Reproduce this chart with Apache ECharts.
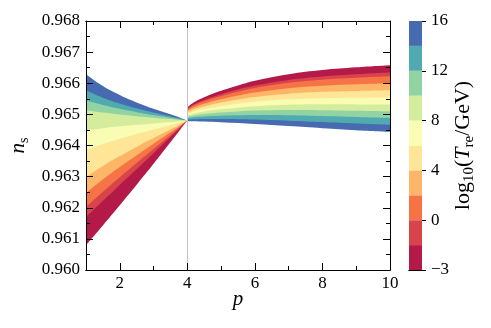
<!DOCTYPE html>
<html>
<head>
<meta charset="utf-8">
<script src="https://cdn.jsdelivr.net/npm/echarts@6/dist/echarts.min.js"></script>
<style>
  html, body { margin: 0; padding: 0; background: #fff; }
  #chart { width: 491px; height: 328px; }
</style>
</head>
<body>
<div id="chart"></div>
<script>
// log10(T_re/GeV) levels bounding the coloured bands
const levels = [-3, -1, 0, 2, 4, 6, 8, 10, 12, 14, 16]
const bandColors = ['#b41a48', '#d9444c', '#f57345', '#fdb668', '#fee696',
  '#f9fcb3', '#d3ed9c', '#92d3a4', '#50aaaf', '#476ab0']

// p < 4 branch, one row per level (same order as levels)
const pLeft = [1, 1.5, 2, 2.5, 3, 3.5, 3.8, 4]
const nsLeft = [
  [0.960801, 0.961433, 0.962081, 0.962741, 0.963412, 0.964104, 0.964524, 0.964800],
  [0.961700, 0.962221, 0.962732, 0.963241, 0.963752, 0.964273, 0.964589, 0.964800],
  [0.962021, 0.962513, 0.962982, 0.963438, 0.963886, 0.964339, 0.964614, 0.964800],
  [0.962470, 0.962906, 0.963307, 0.963686, 0.964057, 0.964423, 0.964646, 0.964800],
  [0.962984, 0.963341, 0.963659, 0.963955, 0.964237, 0.964513, 0.964682, 0.964800],
  [0.963850, 0.964046, 0.964216, 0.964370, 0.964514, 0.964653, 0.964739, 0.964800],
  [0.964492, 0.964558, 0.964615, 0.964664, 0.964710, 0.964753, 0.964781, 0.964800],
  [0.965134, 0.965058, 0.964997, 0.964943, 0.964894, 0.964849, 0.964820, 0.964800],
  [0.965455, 0.965300, 0.965177, 0.965072, 0.964979, 0.964894, 0.964839, 0.964800],
  [0.965776, 0.965537, 0.965349, 0.965193, 0.965058, 0.964936, 0.964858, 0.964800],
  [0.966289, 0.965909, 0.965619, 0.965381, 0.965180, 0.965001, 0.964886, 0.964800]
]

// p > 4 branch
const pRight = [4, 4.2, 4.5, 5, 5.5, 6, 7, 8, 9, 10]
const nsRight = [
  [0.965230, 0.965391, 0.965551, 0.965757, 0.965930, 0.966078, 0.966290, 0.966424, 0.966511, 0.966578],
  [0.965181, 0.965324, 0.965465, 0.965646, 0.965797, 0.965925, 0.966107, 0.966219, 0.966289, 0.966343],
  [0.965156, 0.965290, 0.965422, 0.965590, 0.965730, 0.965849, 0.966015, 0.966116, 0.966178, 0.966225],
  [0.965109, 0.965226, 0.965340, 0.965484, 0.965603, 0.965703, 0.965840, 0.965920, 0.965966, 0.966000],
  [0.965062, 0.965161, 0.965257, 0.965378, 0.965476, 0.965558, 0.965665, 0.965724, 0.965754, 0.965776],
  [0.965012, 0.965094, 0.965171, 0.965267, 0.965343, 0.965405, 0.965482, 0.965518, 0.965532, 0.965540],
  [0.964965, 0.965029, 0.965089, 0.965161, 0.965216, 0.965260, 0.965307, 0.965322, 0.965320, 0.965315],
  [0.964920, 0.964968, 0.965011, 0.965059, 0.965095, 0.965121, 0.965141, 0.965135, 0.965118, 0.965101],
  [0.964875, 0.964907, 0.964932, 0.964958, 0.964974, 0.964982, 0.964974, 0.964948, 0.964916, 0.964887],
  [0.964828, 0.964842, 0.964850, 0.964852, 0.964847, 0.964837, 0.964799, 0.964752, 0.964704, 0.964663],
  [0.964781, 0.964778, 0.964768, 0.964746, 0.964720, 0.964691, 0.964624, 0.964556, 0.964492, 0.964438]
]

const xMajor = [2, 4, 6, 8, 10]
const xMinor = [3, 5, 7, 9]

const font = 'Liberation Serif'
const black = '#000'

// each curve is filled down to the bottom of the axis; later fills cover earlier ones,
// so the band between two neighbouring curves keeps the colour of the upper fill
function fill(ps, vals, color) {
  return {
    type: 'line', smooth: 0.4,
    symbol: 'none', silent: true,
    lineStyle: { width: 0 },
    areaStyle: { color: color, opacity: 1, origin: 'start' },
    data: ps.map((p, i) => [p, vals[i]])
  }
}

const series = []
const n = levels.length
// left branch: T=16 on top, T=-3 at the bottom
for (let k = n - 1; k >= 1; k--) series.push(fill(pLeft, nsLeft[k], bandColors[k - 1]))
series.push(fill(pLeft, nsLeft[0], '#fff'))
// right branch: T=-3 on top, T=16 at the bottom
for (let k = 0; k < n - 1; k++) series.push(fill(pRight, nsRight[k], bandColors[k]))
series.push(fill(pRight, nsRight[n - 1], '#fff'))

// p = 4 marker
series.push({
  type: 'line', data: [], z: 4, silent: true,
  markLine: {
    symbol: 'none', silent: true, label: { show: false },
    lineStyle: { color: '#bcc5ca', width: 1, type: 'solid' },
    data: [{ xAxis: 4 }]
  }
})
// colour bar
bandColors.forEach(c => {
  series.push({
    type: 'bar', xAxisIndex: 4, yAxisIndex: 2, stack: 'cb', barWidth: '100%',
    silent: true, itemStyle: { color: c }, data: [1]
  })
})

const tickStyle = { color: black, width: 1 }
const lineStyle = { lineStyle: { color: black, width: 1 } }

function xAx(pos, values, len, labels, extra) {
  return Object.assign({
    type: 'value', gridIndex: 0, min: 1, max: 10, position: pos, z: 5,
    axisLine: { show: true, lineStyle: { color: black, width: 1 } },
    axisTick: { inside: true, length: len, customValues: values, lineStyle: tickStyle },
    axisLabel: labels
      ? { customValues: values, fontFamily: font, fontSize: 17, color: black, margin: 5 }
      : { show: false },
    splitLine: { show: false }
  }, extra || {})
}

function yAx(pos, labels, extra) {
  return Object.assign({
    type: 'value', gridIndex: 0, min: 0.96, max: 0.968, interval: 0.001, position: pos, z: 5,
    axisLine: { show: true, lineStyle: { color: black, width: 1 } },
    axisTick: { inside: true, length: 7, lineStyle: tickStyle },
    minorTick: { show: true, splitNumber: 2, length: 4, lineStyle: tickStyle },
    axisLabel: labels
      ? { formatter: v => v.toFixed(3), fontFamily: font, fontSize: 17, color: black, margin: 6 }
      : { show: false },
    splitLine: { show: false },
    minorSplitLine: { show: false }
  }, extra || {})
}

const chart = echarts.init(document.getElementById('chart'))
chart.setOption({
  animation: false,
  backgroundColor: '#fff',
  grid: [
    { left: 83, right: 101, top: 21, bottom: 58 },
    { left: 409, width: 13, top: 21, bottom: 58 }
  ],
  xAxis: [
    xAx('bottom', xMajor, 7, true, {
      name: 'p', nameLocation: 'middle', nameGap: 19, nameMoveOverlap: false,
      nameTextStyle: { fontFamily: font, fontStyle: 'italic', fontSize: 21, color: black }
    }),
    xAx('bottom', xMinor, 4, false),
    xAx('top', xMajor, 7, false),
    xAx('top', xMinor, 4, false),
    {
      type: 'category', gridIndex: 1, data: [''], position: 'bottom', z: 5,
      axisLine: lineStyle, axisTick: { show: false }, axisLabel: { show: false }
    },
    {
      type: 'category', gridIndex: 1, data: [''], position: 'top', z: 5,
      axisLine: lineStyle, axisTick: { show: false }, axisLabel: { show: false }
    }
  ],
  yAxis: [
    yAx('left', true, {
      name: '{i|n}{s|s}', nameLocation: 'middle', nameRotate: 90, nameGap: 55,
      nameMoveOverlap: false,
      nameTextStyle: {
        rich: {
          i: { fontFamily: font, fontStyle: 'italic', fontSize: 21, color: black },
          s: { fontFamily: font, fontSize: 14, color: black, padding: [11, 0, 0, 0] }
        }
      }
    }),
    yAx('right', false),
    {
      type: 'value', gridIndex: 1, min: 0, max: 10, interval: 2, position: 'right', z: 5,
      axisLine: lineStyle,
      axisTick: { show: true, inside: false, length: 4, lineStyle: tickStyle },
      axisLabel: {
        formatter: v => String(levels[v]).replace('-', '\u2212'),
        fontFamily: font, fontSize: 17, color: black, margin: 9
      },
      splitLine: { show: false },
      name: '{r|log}{sb|10}{r|(}{i|T}{sb|re}{r|/GeV)}',
      nameLocation: 'middle', nameRotate: 90, nameGap: 28, nameMoveOverlap: false,
      nameTextStyle: {
        rich: {
          r: { fontFamily: font, fontSize: 22, color: black },
          i: { fontFamily: font, fontStyle: 'italic', fontSize: 22, color: black },
          sb: { fontFamily: font, fontSize: 15, color: black, padding: [12, 0, 0, 0] }
        }
      }
    },
    {
      type: 'value', gridIndex: 1, min: 0, max: 10, position: 'left', z: 5,
      axisLine: lineStyle, axisTick: { show: false }, axisLabel: { show: false },
      splitLine: { show: false }
    }
  ],
  series: series
})
</script>
</body>
</html>
